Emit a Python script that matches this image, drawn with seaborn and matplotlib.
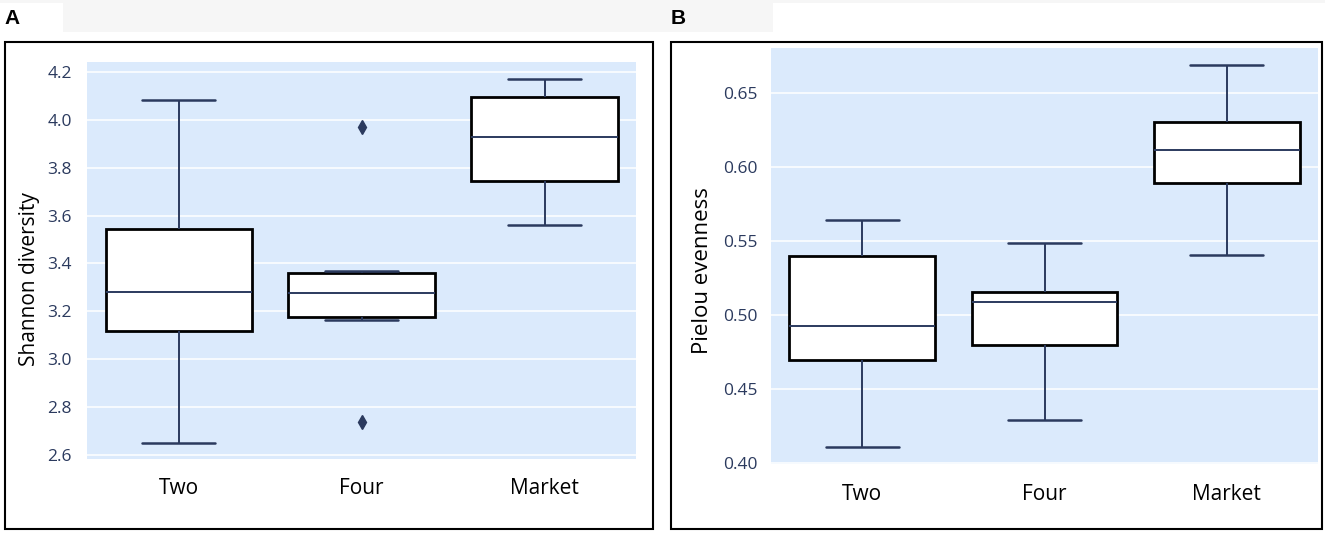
import numpy as np
import pandas as pd
import matplotlib
matplotlib.use("Agg")
import matplotlib.pyplot as plt
from matplotlib.patches import Rectangle
from matplotlib.ticker import FormatStrFormatter
import seaborn as sns

# groups and per-sample values (estimated from the boxes)
groups = ["Two", "Four", "Market"]

shannon_two = [2.651, 3.118, 3.282, 3.543, 4.084]
shannon_four = [2.738, 3.165, 3.191, 3.276, 3.353, 3.367, 3.971]
shannon_market = [3.561, 3.747, 3.929, 4.096, 4.172]

pielou_two = [0.4104, 0.4696, 0.4926, 0.5401, 0.5645]
pielou_four = [0.4286, 0.4795, 0.5090, 0.5157, 0.5488]
pielou_market = [0.5407, 0.5894, 0.6117, 0.6304, 0.6695]

shannon_ticks = [2.6, 2.8, 3.0, 3.2, 3.4, 3.6, 3.8, 4.0, 4.2]
pielou_ticks = [0.40, 0.45, 0.50, 0.55, 0.60, 0.65]


def long_df(two, four, market):
    rows = [("Two", v) for v in two] + [("Four", v) for v in four] + [("Market", v) for v in market]
    return pd.DataFrame(rows, columns=["group", "value"])


shannon = long_df(shannon_two, shannon_four, shannon_market)
pielou = long_df(pielou_two, pielou_four, pielou_market)

sns.set_style("white")
plt.rcParams["font.family"] = ["Open Sans", "DejaVu Sans"]

W, H = 1325, 534
BG = "#dbeafc"
NAVY = "#2b3a5e"

fig = plt.figure(figsize=(W / 100, H / 100), dpi=100)


def px_rect(x0, y0, x1, y1, **kw):
    # rectangle given in pixel coords (origin top-left)
    return Rectangle((x0 / W, 1 - y1 / H), (x1 - x0) / W, (y1 - y0) / H,
                     transform=fig.transFigure, **kw)


# header strip and label cells
fig.add_artist(px_rect(0, 0, W, 32, facecolor="#f6f6f6", edgecolor="none", zorder=0))
fig.add_artist(px_rect(0, 3, 63, 32, facecolor="white", edgecolor="none", zorder=0))
fig.add_artist(px_rect(773, 3, W, 32, facecolor="white", edgecolor="none", zorder=0))

# panel frames
fig.add_artist(px_rect(4.5, 42, 653, 528.5, fill=False, edgecolor="black", lw=1.5))
fig.add_artist(px_rect(671, 41.5, 1322, 528.5, fill=False, edgecolor="black", lw=1.5))

fig.text(4 / W, 1 - 23.5 / H, "A", fontsize=15, fontweight="bold", color="black",
         family="Liberation Sans", va="baseline")
fig.text(671 / W, 1 - 24 / H, "B", fontsize=15, fontweight="bold", color="black",
         family="Liberation Sans", va="baseline")

ax1 = fig.add_axes([87.3 / W, 1 - 459 / H, (636 - 87.3) / W, (459 - 61.7) / H])
ax2 = fig.add_axes([771 / W, 1 - 464.3 / H, (1318 - 771) / W, (464.3 - 47.6) / H])


def draw(ax, df, ylabel, ticks, ylim, fmt, ypad, label_x, label_y, label_size):
    ax.set_facecolor(BG)
    ax.set_axisbelow(True)
    ax.yaxis.grid(True, color="white", linewidth=1.1)
    sns.boxplot(data=df, x="group", y="value", order=groups, ax=ax,
                color="white", width=0.8, linecolor=NAVY, linewidth=1.4,
                boxprops=dict(edgecolor="black", linewidth=2.0),
                whiskerprops=dict(color=NAVY, linewidth=1.4),
                capprops=dict(color=NAVY, linewidth=1.8),
                medianprops=dict(color=NAVY, linewidth=1.4),
                flierprops=dict(marker="d", markerfacecolor=NAVY,
                                markeredgecolor=NAVY, markersize=7))
    ax.set_xlim(-0.5, 2.5)
    ax.set_ylim(*ylim)
    ax.set_yticks(ticks)
    ax.yaxis.set_major_formatter(FormatStrFormatter(fmt))
    ax.set_xlabel("")
    ax.set_ylabel(ylabel, fontsize=label_size, color="black")
    ax.yaxis.set_label_coords(label_x, label_y)
    ax.tick_params(axis="y", length=0, pad=ypad, labelsize=12.5, labelcolor=NAVY)
    ax.tick_params(axis="x", length=0, pad=14, labelsize=15, labelcolor="black")
    for s in ax.spines.values():
        s.set_visible(False)


draw(ax1, shannon, "Shannon diversity", shannon_ticks, (2.582, 4.244), "%.1f",
     11.0, -0.087, 0.453, 15)
draw(ax2, pielou, "Pielou evenness", pielou_ticks, (0.3989, 0.681), "%.2f",
     9.6, -0.106, 0.466, 16)

fig.savefig("out.png", dpi=100, facecolor="white")
